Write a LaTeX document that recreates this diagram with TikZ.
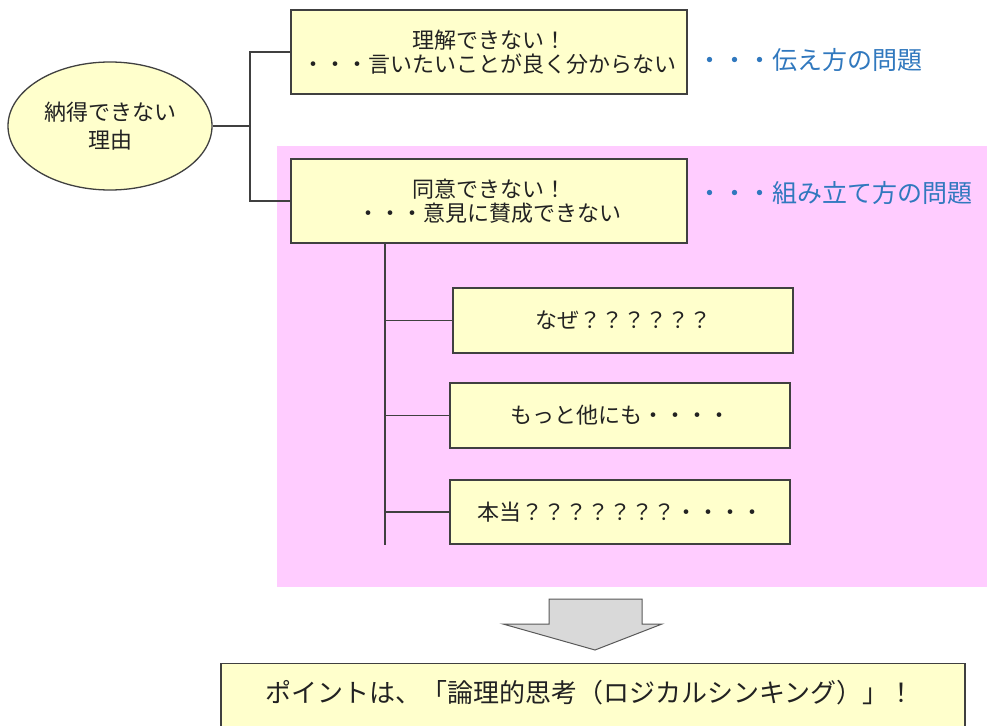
\documentclass[tikz,border=0pt]{standalone}
\usepackage{fontspec}
\setmainfont{Noto Sans CJK JP}
\usetikzlibrary{shapes.geometric,calc}
\definecolor{boxfill}{RGB}{255,255,204}
\definecolor{pinkbg}{RGB}{255,204,255}
\definecolor{bluetxt}{RGB}{48,120,190}
\definecolor{edge}{RGB}{64,64,64}
\definecolor{txt}{RGB}{34,34,34}
\definecolor{arrowfill}{RGB}{217,217,217}
\tikzset{
  ybox/.style={draw=edge, line width=1.3pt, fill=boxfill, inner sep=0pt, align=center,
    text=txt, font=\fontsize{22}{24}\selectfont},
  conn/.style={draw=edge, line width=1.3pt},
  bluelab/.style={text=bluetxt, anchor=west, inner sep=0pt, font=\fontsize{25}{27}\selectfont},
}
\begin{document}
\begin{tikzpicture}[x=1pt,y=-1pt]
\clip (0,0) rectangle (987,725);
\useasboundingbox (0,0) rectangle (987,725);
\fill[white] (0,0) rectangle (987,725);
% pink region
\fill[pinkbg] (277,146) rectangle (987,587);
% ellipse
\node[ybox, ellipse, minimum width=204pt, minimum height=128pt, font=\fontsize{22}{28}\selectfont] (ell) at (110,126) {納得できない\\理由};
% boxes
\node[ybox, minimum width=396pt, minimum height=84pt] (box1) at (489,52) {理解できない！\\・・・言いたいことが良く分からない};
\node[ybox, minimum width=396pt, minimum height=84pt] (box2) at (489,201) {同意できない！\\・・・意見に賛成できない};
\node[ybox, minimum width=340pt, minimum height=65pt] (box3) at (623,320.5) {なぜ？？？？？？};
\node[ybox, minimum width=340pt, minimum height=65pt] (box4) at (620,415.5) {もっと他にも・・・・};
\node[ybox, minimum width=340pt, minimum height=64pt] (box5) at (620,512) {本当？？？？？？？・・・・};
% blue labels
\node[bluelab] (lab1) at (697,60) {・・・伝え方の問題};
\node[bluelab] (lab2) at (697,193) {・・・組み立て方の問題};
% connectors
\coordinate (j1) at (250,126);
\draw[conn] (ell.east) -- (j1);
\draw[conn] (box1.west) -| (j1) |- (box2.west);
\coordinate (v0) at (385,243);
\coordinate (v1) at (385,545);
\draw[conn] (v0) -- (v1);
\draw[conn] (v0 |- box3.west) -- (box3.west);
\draw[conn] (v0 |- box4.west) -- (box4.west);
\draw[conn] (v0 |- box5.west) -- (box5.west);
% big arrow
\draw[draw=gray!70!black, line width=1pt, fill=arrowfill, line join=miter]
  (549,599) -- (642,599) -- (642,624) -- (662,624) -- (595,650) -- (503,624) -- (549,624) -- cycle;
% bottom box
\node[ybox, minimum width=744pt, minimum height=90pt, anchor=north] (bot) at (593,663) {};
\node[text=txt, inner sep=0pt, font=\fontsize{26}{28}\selectfont] (bottxt) at (590,693) {ポイントは、「論理的思考（ロジカルシンキング）」！};
\end{tikzpicture}
\end{document}
